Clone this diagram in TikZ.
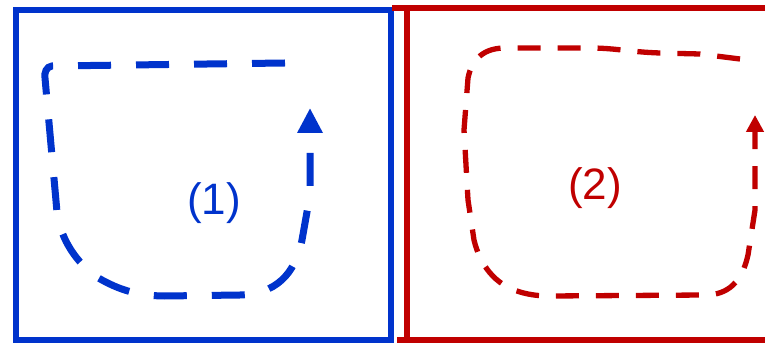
\documentclass[tikz,border=0pt]{standalone}
\usepackage{fontspec}
\setmainfont{Liberation Sans}
\usetikzlibrary{arrows.meta}
\definecolor{bblue}{HTML}{0033CC}
\definecolor{rred}{HTML}{C00000}
\begin{document}
\begin{tikzpicture}[x=1pt,y=-1pt,
  boxline/.style={line width=6.5pt},
  bluedash/.style={bblue,line width=7pt,dash pattern=on 33pt off 25pt,-{Triangle[length=25pt,width=24pt]}},
  reddash/.style={rred,line width=5.3pt,dash pattern=on 23pt off 17pt,-{Triangle[length=17pt,width=17pt]}},
  lbl/.style={font=\fontsize{44}{50}\selectfont}]
\useasboundingbox (0,0) rectangle (765,344);
% blue box
\draw[boxline,bblue] (16,10) rectangle (391,340);
% red box (open to the right)
\draw[boxline,rred] (392,8) -- (765,8);
\draw[boxline,rred] (407,8) -- (407,340);
\draw[boxline,rred] (397,340) -- (765,340);
% blue circulation
\draw[bluedash] (285,63) -- (52,66) to[out=185,in=100] (45,78) -- (57,212)
  .. controls (60,235) and (72,258) .. (95,276)
  .. controls (115,288) and (135,296) .. (165,296) -- (240,295)
  .. controls (275,294) and (295,275) .. (302,240) -- (310,195) -- (310,108);
\node[lbl,text=bblue] (one) at (214,203) {(1)};
% red circulation
\draw[reddash] (740,59) -- (700,54) -- (660,53)
  .. controls (630,52) and (615,48) .. (590,48) -- (505,48)
  .. controls (485,48) and (472,58) .. (468,78) -- (464,130) -- (468,200) -- (474,240)
  .. controls (480,265) and (495,285) .. (520,292)
  .. controls (530,295) and (540,296) .. (550,296) -- (705,295)
  .. controls (728,295) and (742,282) .. (748,255) -- (755,210) -- (755,115);
\node[lbl,text=rred] (two) at (595,188) {(2)};
\end{tikzpicture}
\end{document}
